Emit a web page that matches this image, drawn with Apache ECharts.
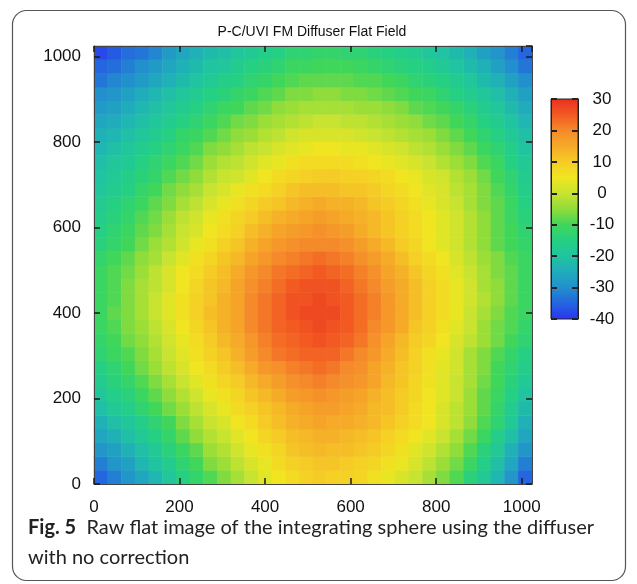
<!DOCTYPE html>
<html>
<head>
<meta charset="utf-8">
<script src="https://cdn.jsdelivr.net/npm/echarts@6/dist/echarts.min.js"></script>
<style>
html,body{margin:0;padding:0;background:#fff;}
#chart{width:637px;height:584px;}
</style>
</head>
<body>
<div id="chart"></div>
<script>
// ---------------- data ----------------
const chartTitle = 'P-C/UVI FM Diffuser Flat Field';
const captionBold = 'Fig. 5';
const captionLine1 = 'Raw flat image of the integrating sphere using the diffuser';
const captionLine2 = 'with no correction';

// pixel-cell centres (32 x 32 blocks of 32 px over the 1024 x 1024 detector)
const cellX = [16,48,80,112,144,176,208,240,272,304,336,368,400,432,464,496,528,560,592,624,656,688,720,752,784,816,848,880,912,944,976,1008];
const cellY = [16,48,80,112,144,176,208,240,272,304,336,368,400,432,464,496,528,560,592,624,656,688,720,752,784,816,848,880,912,944,976,1008];

// axis tick labels
const xTicks = [0,200,400,600,800,1000];
const yTicks = [0,200,400,600,800,1000];
const colorbarTicks = [-40,-30,-20,-10,0,10,20,30];
const colorMin = -40, colorMax = 30;

// flat-field values, one row per cellY (bottom to top), left to right along cellX
const y16   = [-35,-32,-29,-26,-23,-19,-15,-12,-9,-6,-3,0,3,5,7,9,10,9,9,8,6,4,2,0,-3,-6,-9,-14,-18,-23,-29,-35];
const y48   = [-32,-29,-27,-23,-20,-17,-13,-10,-6,-4,-1,2,4,7,9,10,11,11,10,9,8,6,4,2,-1,-4,-7,-11,-16,-21,-26,-32];
const y80   = [-29,-27,-24,-21,-18,-14,-11,-8,-4,-2,1,4,6,8,11,12,13,12,12,11,10,8,6,3,1,-2,-5,-9,-14,-18,-24,-29];
const y112  = [-26,-24,-21,-18,-15,-12,-8,-5,-2,0,3,5,8,10,12,13,14,14,13,12,11,9,7,5,3,0,-3,-7,-11,-16,-21,-26];
const y144  = [-24,-21,-19,-16,-13,-10,-6,-3,0,2,5,7,10,12,14,15,16,15,15,14,13,11,9,7,5,2,-1,-5,-9,-13,-18,-24];
const y176  = [-21,-18,-16,-13,-10,-7,-4,-1,2,4,7,9,11,13,15,16,17,17,16,15,13,12,10,7,5,2,-1,-4,-8,-12,-17,-22];
const y208  = [-19,-16,-14,-11,-8,-5,-2,1,4,6,8,11,13,15,17,18,19,18,17,16,14,12,10,8,5,3,0,-4,-8,-11,-15,-20];
const y240  = [-17,-14,-12,-9,-6,-3,0,3,6,8,10,13,15,17,19,20,21,20,19,18,16,13,11,8,6,3,0,-3,-7,-10,-14,-18];
const y272  = [-15,-13,-10,-7,-4,-1,2,5,7,10,12,15,18,19,21,22,23,22,20,19,16,14,11,9,6,3,1,-3,-6,-10,-13,-16];
const y304  = [-13,-11,-9,-6,-3,0,3,6,9,11,14,17,20,22,23,24,24,24,22,20,18,15,12,9,6,4,1,-3,-6,-9,-12,-15];
const y336  = [-12,-10,-7,-5,-2,1,4,7,10,13,15,18,21,23,24,25,26,25,24,22,19,16,13,10,8,5,2,-1,-4,-7,-10,-13];
const y368  = [-11,-9,-6,-4,-1,2,5,8,11,14,16,20,22,24,25,26,27,26,25,23,20,18,15,11,9,6,3,0,-4,-7,-9,-12];
const y400  = [-11,-8,-6,-3,0,3,6,9,12,14,16,20,22,24,26,27,27,27,25,23,21,18,15,12,9,7,4,0,-3,-6,-9,-11];
const y432  = [-11,-9,-6,-3,0,3,6,9,11,14,16,20,22,24,26,26,27,26,25,23,21,18,15,12,9,7,4,1,-2,-5,-8,-11];
const y464  = [-11,-9,-6,-3,-1,2,5,8,11,13,16,19,21,23,25,26,26,26,24,22,20,17,15,12,9,7,4,1,-3,-5,-8,-11];
const y496  = [-11,-9,-7,-4,-1,2,5,7,10,12,15,18,20,22,23,24,25,24,23,21,19,16,14,11,8,6,3,0,-3,-6,-8,-11];
const y528  = [-12,-10,-8,-5,-3,0,3,6,8,11,13,16,18,20,21,22,23,22,21,19,17,15,12,9,7,5,2,-1,-4,-6,-9,-11];
const y560  = [-14,-12,-10,-7,-4,-2,1,4,6,9,11,14,16,18,19,20,20,20,19,17,15,13,10,8,5,3,1,-2,-5,-8,-10,-12];
const y592  = [-15,-13,-11,-8,-6,-3,0,2,5,7,9,12,14,16,17,18,19,18,17,15,13,11,9,7,5,3,1,-2,-5,-8,-10,-13];
const y624  = [-16,-14,-12,-9,-7,-4,-1,1,4,6,8,10,12,14,15,16,17,16,15,14,13,11,9,7,5,3,1,-2,-5,-8,-11,-14];
const y656  = [-17,-15,-13,-11,-8,-6,-3,-1,2,4,6,8,10,11,13,14,15,14,14,13,11,10,8,6,4,2,0,-3,-6,-8,-11,-15];
const y688  = [-19,-17,-15,-12,-10,-7,-5,-3,0,2,4,6,7,9,11,12,12,12,11,11,10,8,7,5,3,2,-1,-3,-6,-9,-12,-16];
const y720  = [-20,-18,-16,-14,-12,-9,-7,-5,-2,0,1,3,5,7,8,9,10,10,9,9,8,7,5,4,2,1,-2,-4,-7,-10,-13,-17];
const y752  = [-21,-19,-18,-15,-13,-11,-9,-7,-4,-2,-1,1,3,4,6,7,7,7,7,6,5,4,3,2,0,-2,-4,-6,-9,-11,-15,-18];
const y784  = [-23,-21,-19,-17,-15,-13,-11,-9,-6,-5,-3,-1,0,2,3,4,5,5,4,4,3,2,1,-1,-2,-4,-6,-8,-11,-13,-16,-20];
const y816  = [-24,-23,-21,-19,-17,-15,-12,-11,-9,-7,-5,-4,-2,-1,1,2,2,2,2,1,0,-1,-2,-3,-4,-6,-8,-10,-13,-15,-18,-21];
const y848  = [-26,-25,-23,-21,-19,-17,-15,-13,-11,-9,-7,-6,-4,-3,-2,-1,0,0,-1,-1,-2,-3,-4,-5,-7,-8,-10,-12,-15,-17,-20,-23];
const y880  = [-28,-27,-25,-23,-21,-19,-17,-15,-13,-11,-10,-8,-7,-5,-4,-3,-3,-3,-3,-4,-4,-5,-6,-8,-9,-10,-12,-14,-17,-19,-22,-25];
const y912  = [-30,-29,-27,-25,-23,-21,-19,-17,-15,-14,-12,-11,-9,-8,-6,-6,-5,-5,-6,-6,-7,-8,-9,-10,-11,-13,-15,-17,-19,-21,-24,-27];
const y944  = [-33,-31,-30,-28,-26,-24,-22,-20,-18,-16,-15,-13,-12,-10,-9,-8,-8,-8,-8,-9,-9,-10,-11,-13,-14,-15,-17,-19,-22,-24,-27,-30];
const y976  = [-35,-34,-32,-30,-28,-26,-24,-22,-20,-19,-17,-15,-14,-13,-11,-11,-10,-10,-10,-11,-12,-13,-14,-15,-16,-18,-20,-22,-24,-27,-30,-33];
const y1008 = [-38,-36,-34,-33,-31,-28,-26,-24,-22,-21,-19,-18,-16,-15,-13,-13,-12,-12,-13,-13,-14,-15,-16,-17,-19,-20,-22,-24,-27,-29,-32,-35];

const fieldRows = [y16,y48,y80,y112,y144,y176,y208,y240,y272,y304,y336,y368,y400,y432,y464,y496,
                   y528,y560,y592,y624,y656,y688,y720,y752,y784,y816,y848,y880,y912,y944,y976,y1008];

// colour map (blue -> cyan -> green -> yellow -> orange -> red)
const colorStops = ['#2a35f0','#2465e0','#2290cc','#20acbc','#20c4a0','#25d082','#40d65a',
                    '#90dc3a','#c8e430','#f0e520','#f5cc25','#f5aa28','#f58a2a','#f25a22','#e8301e'];

// ---------------- chart ----------------
const heatData = [];
fieldRows.forEach((row, j) => row.forEach((v, i) => heatData.push([i, j, v])));

const FONT = 'Liberation Sans';
const PLOT = {left: 94, top: 46, width: 438, height: 438};
const BAR = {left: 551, top: 99, width: 27, height: 220};

function ticks() { return {show: true, inside: true, length: 6, lineStyle: {color: '#1a1a1a', width: 1.5}}; }
function frame() { return {show: true, onZero: false, lineStyle: {color: '#444', width: 1}}; }
function lbl(extra) { return Object.assign({fontFamily: FONT, fontSize: 17, color: '#111'}, extra); }

const chart = echarts.init(document.getElementById('chart'), null, {renderer: 'canvas'});
chart.setOption({
  backgroundColor: '#ffffff',
  animation: false,
  grid: [
    {left: PLOT.left, top: PLOT.top, width: PLOT.width, height: PLOT.height},
    {left: PLOT.left, top: PLOT.top, width: PLOT.width, height: PLOT.height},
    {left: BAR.left, top: BAR.top, width: BAR.width, height: BAR.height}
  ],
  xAxis: [
    {gridIndex: 0, type: 'category', data: cellX.map(String), show: false},
    {gridIndex: 1, type: 'value', min: 0, max: 1024, interval: 200, position: 'bottom', z: 10,
     axisLine: frame(), axisTick: ticks(), splitLine: {show: false},
     axisLabel: lbl({margin: 15, showMaxLabel: false,
       formatter: v => xTicks.indexOf(v) >= 0 ? String(v) : ''})},
    {gridIndex: 1, type: 'value', min: 0, max: 1024, interval: 200, position: 'top', z: 10,
     axisLine: frame(), axisTick: ticks(), splitLine: {show: false}, axisLabel: {show: false}},
    {gridIndex: 2, type: 'value', min: 0, max: 1, show: false}
  ],
  yAxis: [
    {gridIndex: 0, type: 'category', data: cellY.map(String), show: false},
    {gridIndex: 1, type: 'value', min: 0, max: 1024, interval: 200, position: 'left', z: 10,
     axisLine: frame(), axisTick: ticks(), splitLine: {show: false},
     axisLabel: lbl({margin: 13, showMaxLabel: false,
       formatter: v => yTicks.indexOf(v) >= 0 ? String(v) : ''})},
    {gridIndex: 1, type: 'value', min: 0, max: 1024, interval: 200, position: 'right', z: 10,
     axisLine: frame(), axisTick: ticks(), splitLine: {show: false}, axisLabel: {show: false}},
    {gridIndex: 2, type: 'value', min: colorMin, max: colorMax, interval: 10, position: 'left', z: 10,
     axisLine: {show: true, onZero: false, lineStyle: {color: '#222', width: 1}},
     axisTick: {show: true, inside: true, length: 6, lineStyle: {color: '#222', width: 2}},
     axisLabel: {show: false}, splitLine: {show: false}},
    {gridIndex: 2, type: 'value', min: colorMin, max: colorMax, interval: 10, position: 'right', z: 10,
     axisLine: {show: true, onZero: false, lineStyle: {color: '#222', width: 1}},
     axisTick: {show: true, inside: true, length: 6, lineStyle: {color: '#222', width: 2}},
     axisLabel: lbl({margin: 24, align: 'center',
       formatter: v => colorbarTicks.indexOf(v) >= 0 ? String(v) : ''}),
     splitLine: {show: false}}
  ],
  visualMap: {
    type: 'continuous', min: colorMin, max: colorMax, dimension: 2, seriesIndex: 0,
    inRange: {color: colorStops},
    left: BAR.left, top: BAR.top, itemWidth: BAR.width, itemHeight: BAR.height,
    padding: 0, calculable: false, text: null, orient: 'vertical', z: 2
  },
  series: [{
    type: 'heatmap', xAxisIndex: 0, yAxisIndex: 0, data: heatData, z: 1,
    itemStyle: {borderWidth: 0}, emphasis: {disabled: true}, progressive: 0
  }],
  graphic: [
    {type: 'rect', z: 100, silent: true,
     shape: {x: 12.5, y: 10.5, width: 613, height: 570, r: 14},
     style: {fill: 'none', stroke: '#555', lineWidth: 1.2}},
    {type: 'rect', z: 100, silent: true,
     shape: {x: BAR.left, y: BAR.top, width: BAR.width, height: BAR.height},
     style: {fill: 'none', stroke: '#222', lineWidth: 1}},
    {type: 'text', z: 100, silent: true, x: 312, y: 32,
     style: {text: chartTitle, fontFamily: FONT, fontSize: 14, fill: '#111',
             align: 'center', verticalAlign: 'middle'}},
    {type: 'text', z: 100, silent: true, x: 28, y: 513,
     style: {text: '{b|' + captionBold + '}  ' + captionLine1 + '\n' + captionLine2,
             fontFamily: 'Lato', fontSize: 20, fill: '#222', lineHeight: 30,
             rich: {b: {fontFamily: 'Lato', fontWeight: 'bold', fontSize: 20, fill: '#222', lineHeight: 30}}}}
  ]
});
</script>
</body>
</html>
